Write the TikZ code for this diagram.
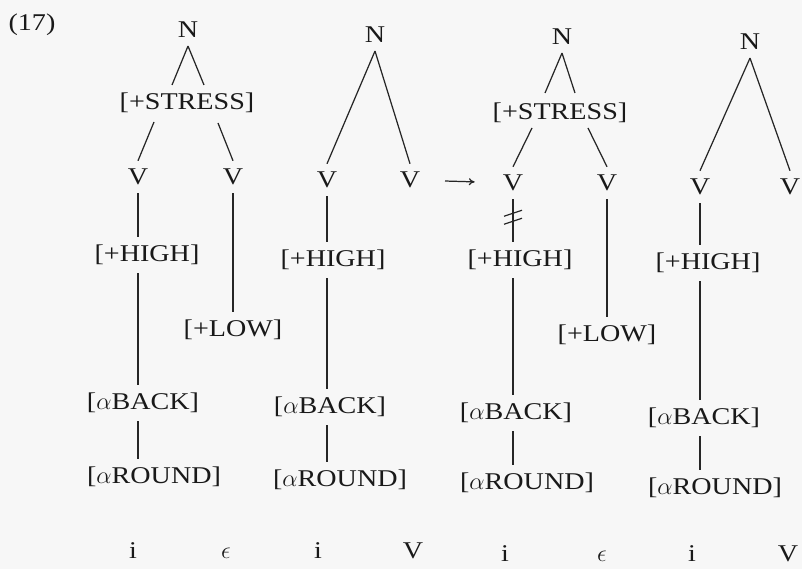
\documentclass[tikz,border=0pt]{standalone}
\usepackage{fontspec}
\setmainfont{Liberation Serif}[FakeStretch=1.17]
\usepackage{tikz}
\usetikzlibrary{arrows.meta, calc, positioning}
\tikzset{
  sym/.style={
    inner sep=2pt, outer sep=5pt, text=black!90,
    font=\fontsize{20.5}{24}\selectfont
  },
  feat/.style={sym},
  seg/.style={sym, inner sep=0pt, outer sep=0pt},
  branch/.style={draw=black!85, line width=1.05pt},
  arrow/.style={-{To[length=5pt,width=6pt]}, draw=black!85, line width=1.05pt}
}
\begin{document}
\begin{tikzpicture}[x=0.03cm, y=-0.03cm]
  \fill[black!3] (0,0) rectangle (802,569);
  \useasboundingbox (0,0) rectangle (802,569);

  \node[sym] (num) at (32,25) {(17)};

  % first tree: i e
  \node[sym]  (n1) at (188,30)  {N};
  \node[feat] (s1) at (187,103) {[+STRESS]};
  \node[sym]  (v1) at (138,177) {V};
  \node[sym]  (v2) at (233,177) {V};
  \node[feat] (h1) at (147,255) {[+HIGH]};
  \node[feat] (l1) at (233,330) {[+LOW]};
  \node[feat] (b1) at (143,403) {[$\alpha$BACK]};
  \node[feat] (r1) at (154,477) {[$\alpha$ROUND]};
  \node[seg]  (i1) at (133,551) {i};
  \node[seg]  (e1) at (226,553) {$\epsilon$};

  \draw[branch] (n1.south) -- ($(s1)+(-15,-18)$);
  \draw[branch] (n1.south) -- ($(s1)+(17,-18)$);
  \draw[branch] ($(s1)+(-33,19)$) -- (v1.north);
  \draw[branch] ($(s1)+(31,20)$) -- (v2.north);
  \draw[branch] (v1.south) -- (v1.south |- h1.north);
  \draw[branch] (v1.south |- h1.south) -- (v1.south |- b1.north);
  \draw[branch] (v1.south |- b1.south) -- (v1.south |- r1.north);
  \draw[branch] (v2.south) -- (v2.south |- l1.north);

  % second tree: i V
  \node[sym]  (n2) at (375,35)  {N};
  \node[sym]  (v3) at (327,180) {V};
  \node[sym]  (v4) at (410,180) {V};
  \node[feat] (h2) at (333,260) {[+HIGH]};
  \node[feat] (b2) at (330,407) {[$\alpha$BACK]};
  \node[feat] (r2) at (340,480) {[$\alpha$ROUND]};
  \node[seg]  (i2) at (318,551) {i};
  \node[seg]  (w2) at (413,551) {V};

  \draw[branch] (n2.south) -- (v3.north);
  \draw[branch] (n2.south) -- (v4.north);
  \draw[branch] (v3.south) -- (v3.south |- h2.north);
  \draw[branch] (v3.south |- h2.south) -- (v3.south |- b2.north);
  \draw[branch] (v3.south |- b2.south) -- (v3.south |- r2.north);

  % third tree: i e
  \node[sym]  (n3) at (562,37)  {N};
  \node[feat] (s3) at (560,113) {[+STRESS]};
  \node[sym]  (v5) at (513,183) {V};
  \node[sym]  (v6) at (607,183) {V};
  \node[feat] (h3) at (520,260) {[+HIGH]};
  \node[feat] (l3) at (607,335) {[+LOW]};
  \node[feat] (b3) at (516,413) {[$\alpha$BACK]};
  \node[feat] (r3) at (527,483) {[$\alpha$ROUND]};
  \node[seg]  (i3) at (505,554) {i};
  \node[seg]  (e3) at (602,556) {$\epsilon$};

  \draw[branch] (n3.south) -- ($(s3)+(-15,-20)$);
  \draw[branch] (n3.south) -- ($(s3)+(15,-20)$);
  \draw[branch] ($(s3)+(-28,15)$) -- (v5.north);
  \draw[branch] ($(s3)+(28,15)$) -- (v6.north);
  \draw[branch] (v5.south) -- (v5.south |- h3.north);
  \draw[branch] ($(v5.south)+(-9,17)$) -- ($(v5.south)+(9,11)$);
  \draw[branch] ($(v5.south)+(-9,25)$) -- ($(v5.south)+(9,19)$);
  \draw[branch] (v5.south |- h3.south) -- (v5.south |- b3.north);
  \draw[branch] (v5.south |- b3.south) -- (v5.south |- r3.north);
  \draw[branch] (v6.south) -- (v6.south |- l3.north);

  % rule arrow
  \draw[arrow, shorten <=0.5cm, shorten >=0.6cm] (v4) -- (v5);

  % fourth tree: i V
  \node[sym]  (n4) at (750,42)  {N};
  \node[sym]  (v7) at (700,187) {V};
  \node[sym]  (v8) at (790,187) {V};
  \node[feat] (h4) at (708,263) {[+HIGH]};
  \node[feat] (b4) at (704,418) {[$\alpha$BACK]};
  \node[feat] (r4) at (715,488) {[$\alpha$ROUND]};
  \node[seg]  (i4) at (692,554) {i};
  \node[seg]  (w4) at (788,554) {V};

  \draw[branch] (n4.south) -- (v7.north);
  \draw[branch] (n4.south) -- (v8.north);
  \draw[branch] (v7.south) -- (v7.south |- h4.north);
  \draw[branch] (v7.south |- h4.south) -- (v7.south |- b4.north);
  \draw[branch] (v7.south |- b4.south) -- (v7.south |- r4.north);
\end{tikzpicture}
\end{document}
